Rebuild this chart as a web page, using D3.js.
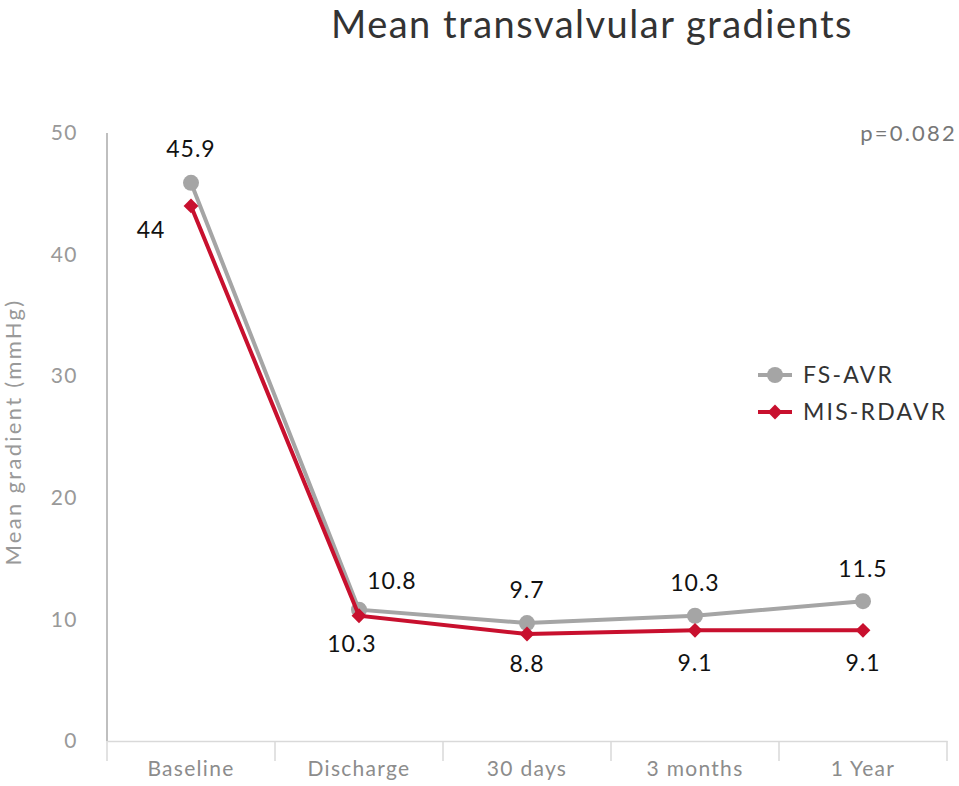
<!DOCTYPE html>
<html><head><meta charset="utf-8">
<script src="https://cdn.jsdelivr.net/npm/d3@7"></script>
<style>body{margin:0;background:#fff}svg{display:block;font-family:Lato,"Open Sans",sans-serif}</style>
</head><body>
<svg id="c" width="959" height="786"></svg>
<script>
const categories = ["Baseline","Discharge","30 days","3 months","1 Year"];
const fsAvr = [45.9,10.8,9.7,10.3,11.5];
const misRdavr = [44,10.3,8.8,9.1,9.1];
const yTicks = [0,10,20,30,40,50];
const seriesNames = ["FS-AVR","MIS-RDAVR"];

const svg = d3.select("#c");
const pLeft=107, pRight=947, pTop=133, pBottom=741;
const x = d3.scaleBand().domain(categories).range([pLeft,pRight]);
const y = d3.scaleLinear().domain([0,50]).range([pBottom,pTop]);
const gray="#a5a5a5", red="#c8102e";

// title
svg.append("text").attr("x",592).attr("y",38).attr("text-anchor","middle")
  .attr("font-size",38).attr("letter-spacing",1.5).attr("fill","#333").text("Mean transvalvular gradients");

// y axis
const ya = svg.append("g").attr("transform",`translate(${pLeft},0)`)
  .call(d3.axisLeft(y).tickValues(yTicks).tickSize(0).tickPadding(29));
ya.select(".domain").attr("stroke","#bfbfbf").attr("stroke-width",2).attr("d",`M0,${pTop}V${pBottom}`);
ya.selectAll("text").attr("font-size",21).attr("letter-spacing",1.5).attr("fill","#999").attr("font-family","Lato");

// x axis
const xa = svg.append("g").attr("transform",`translate(0,${pBottom})`)
  .call(d3.axisBottom(x).tickSize(0).tickPadding(20));
xa.select(".domain").attr("stroke","#d9d9d9").attr("stroke-width",1.5);
xa.selectAll("text").attr("font-size",21).attr("letter-spacing",1.3).attr("fill","#8c8c8c").attr("font-family","Lato");
const bounds = categories.map(c=>x(c)).concat([pRight]);
svg.append("g").selectAll("line").data(bounds).join("line")
  .attr("x1",d=>d).attr("x2",d=>d).attr("y1",pBottom).attr("y2",pBottom+20)
  .attr("stroke","#d9d9d9").attr("stroke-width",1.5);

// y title
svg.append("text").attr("transform",`translate(21,432) rotate(-90)`).attr("text-anchor","middle")
  .attr("font-size",22).attr("letter-spacing",2.3).attr("fill","#999").text("Mean gradient (mmHg)");

// p value
svg.append("text").attr("x",957).attr("y",141).attr("text-anchor","end")
  .attr("font-size",22).attr("letter-spacing",2.2).attr("fill","#777").text("p=0.082");

const cx = c=>x(c)+x.bandwidth()/2;
const line = d3.line().x((d,i)=>cx(categories[i])).y(d=>y(d));
svg.append("path").datum(fsAvr).attr("d",line).attr("fill","none").attr("stroke",gray).attr("stroke-width",4);
svg.append("g").selectAll("circle").data(fsAvr).join("circle")
  .attr("cx",(d,i)=>cx(categories[i])).attr("cy",d=>y(d)).attr("r",8).attr("fill",gray);
svg.append("path").datum(misRdavr).attr("d",line).attr("fill","none").attr("stroke",red).attr("stroke-width",4);
const diamond = d3.symbol().type(d3.symbolDiamond2).size(140);
svg.append("g").selectAll("path").data(misRdavr).join("path")
  .attr("d",diamond).attr("transform",(d,i)=>`translate(${cx(categories[i])},${y(d)})`).attr("fill",red);

// data labels
const fsOff=[[0,-26],[33,-21],[0,-25],[0,-25],[0,-24]];
const misOff=[[-40,32],[-7,36],[0,38],[0,41],[0,41]];
svg.append("g").selectAll("text").data(fsAvr).join("text")
  .attr("x",(d,i)=>cx(categories[i])+fsOff[i][0]).attr("y",(d,i)=>y(d)+fsOff[i][1])
  .attr("text-anchor","middle").attr("font-size",23).attr("letter-spacing",1).attr("fill","#111").text(d=>d);
svg.append("g").selectAll("text").data(misRdavr).join("text")
  .attr("x",(d,i)=>cx(categories[i])+misOff[i][0]).attr("y",(d,i)=>y(d)+misOff[i][1])
  .attr("text-anchor","middle").attr("font-size",23).attr("letter-spacing",1).attr("fill","#111").text(d=>d);

// legend
const leg = svg.append("g");
[[gray,"circle"],[red,"diamond"]].forEach((s,i)=>{
  const ly = 375 + i*37;
  leg.append("line").attr("x1",758).attr("x2",792).attr("y1",ly).attr("y2",ly).attr("stroke",s[0]).attr("stroke-width",4);
  if(s[1]==="circle") leg.append("circle").attr("cx",775).attr("cy",ly).attr("r",8).attr("fill",s[0]);
  else leg.append("path").attr("d",diamond).attr("transform",`translate(775,${ly})`).attr("fill",s[0]);
  leg.append("text").attr("x",803).attr("y",ly+8).attr("font-size",23).attr("letter-spacing",2.2).attr("fill","#333").text(seriesNames[i]);
});
</script>
</body></html>
